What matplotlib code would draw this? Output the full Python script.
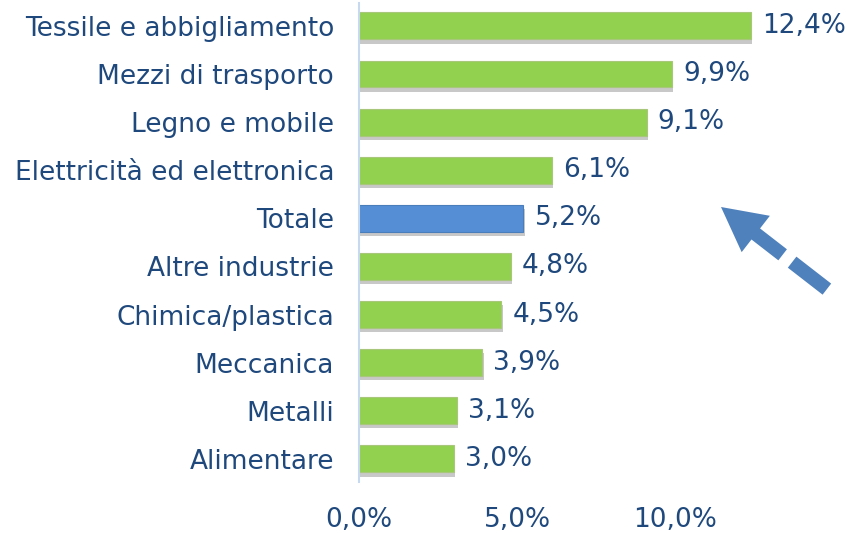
import matplotlib
matplotlib.use("Agg")
import numpy as np
import matplotlib.pyplot as plt
import matplotlib.patheffects as pe
from matplotlib.patches import Polygon

# Data (top to bottom)
categories = ["Tessile e abbigliamento", "Mezzi di trasporto", "Legno e mobile",
              "Elettricità ed elettronica", "Totale", "Altre industrie",
              "Chimica/plastica", "Meccanica", "Metalli", "Alimentare"]
values = [12.4, 9.9, 9.1, 6.1, 5.2, 4.8, 4.5, 3.9, 3.1, 3.0]
value_labels = ["12,4%", "9,9%", "9,1%", "6,1%", "5,2%", "4,8%", "4,5%", "3,9%", "3,1%", "3,0%"]
tick_values = [0, 5, 10]
tick_labels = ["0,0%", "5,0%", "10,0%"]

text_color = "#1F497D"
green = "#92D050"
blue = "#558ED5"
arrow_color = "#4F81BD"
fsize = 19


def add_arrow(fig):
    # dashed arrow drawn in figure pixel coordinates (top-left origin)
    W, H = 855, 533
    tip = np.array([721.0, 207.0])
    end = np.array([828.0, 290.0])
    u = (end - tip) / np.linalg.norm(end - tip)
    n = np.array([-u[1], u[0]])

    def to_fig(p):
        return (p[0] / W, 1 - p[1] / H)

    def shaft(s0, s1, hw=7.0):
        pts = [tip + u * s0 + n * hw, tip + u * s1 + n * hw,
               tip + u * s1 - n * hw, tip + u * s0 - n * hw]
        return [to_fig(p) for p in pts]

    head_len, head_hw = 44.0, 23.0
    head = [to_fig(tip), to_fig(tip + u * head_len + n * head_hw),
            to_fig(tip + u * head_len - n * head_hw)]
    for pts in [head, shaft(head_len - 2, 78), shaft(90, 134)]:
        fig.patches.append(Polygon(pts, closed=True, transform=fig.transFigure,
                                   color=arrow_color, lw=0))


def plot_chart():
    fig = plt.figure(figsize=(8.55, 5.33), dpi=100)
    ax = fig.add_axes([0.42, 0.0957, 0.573, 0.899])

    colors = [blue if c == "Totale" else green for c in categories]
    edges = ["#4A7EBB" if c == "Totale" else "#A9C77A" for c in categories]
    pos = list(range(len(categories)))
    bars = ax.barh(pos, values, height=0.56, color=colors, edgecolor=edges, linewidth=0.8)
    for b in bars:
        b.set_path_effects([pe.SimplePatchShadow(offset=(1, -3), shadow_rgbFace="#777777", alpha=0.4),
                            pe.Normal()])

    for p, v, lab in zip(pos, values, value_labels):
        ax.text(v + 0.35, p, lab, va="center", ha="left", fontsize=fsize, color=text_color)

    ax.set_xlim(0, 15.5)
    ax.set_ylim(len(categories) - 0.52, -0.48)
    ax.set_yticks(pos)
    ax.set_yticklabels(categories, fontsize=fsize, color=text_color)
    ax.set_xticks(tick_values)
    ax.set_xticklabels(tick_labels, fontsize=fsize, color=text_color)
    ax.tick_params(axis="both", length=0)
    ax.tick_params(axis="x", pad=18)
    ax.tick_params(axis="y", pad=18)

    for side in ["top", "right", "bottom"]:
        ax.spines[side].set_visible(False)
    ax.spines["left"].set_color("#C6D9F1")
    ax.spines["left"].set_linewidth(1.5)

    add_arrow(fig)

    fig.savefig("out.png", dpi=100)


if __name__ == "__main__":
    plot_chart()
